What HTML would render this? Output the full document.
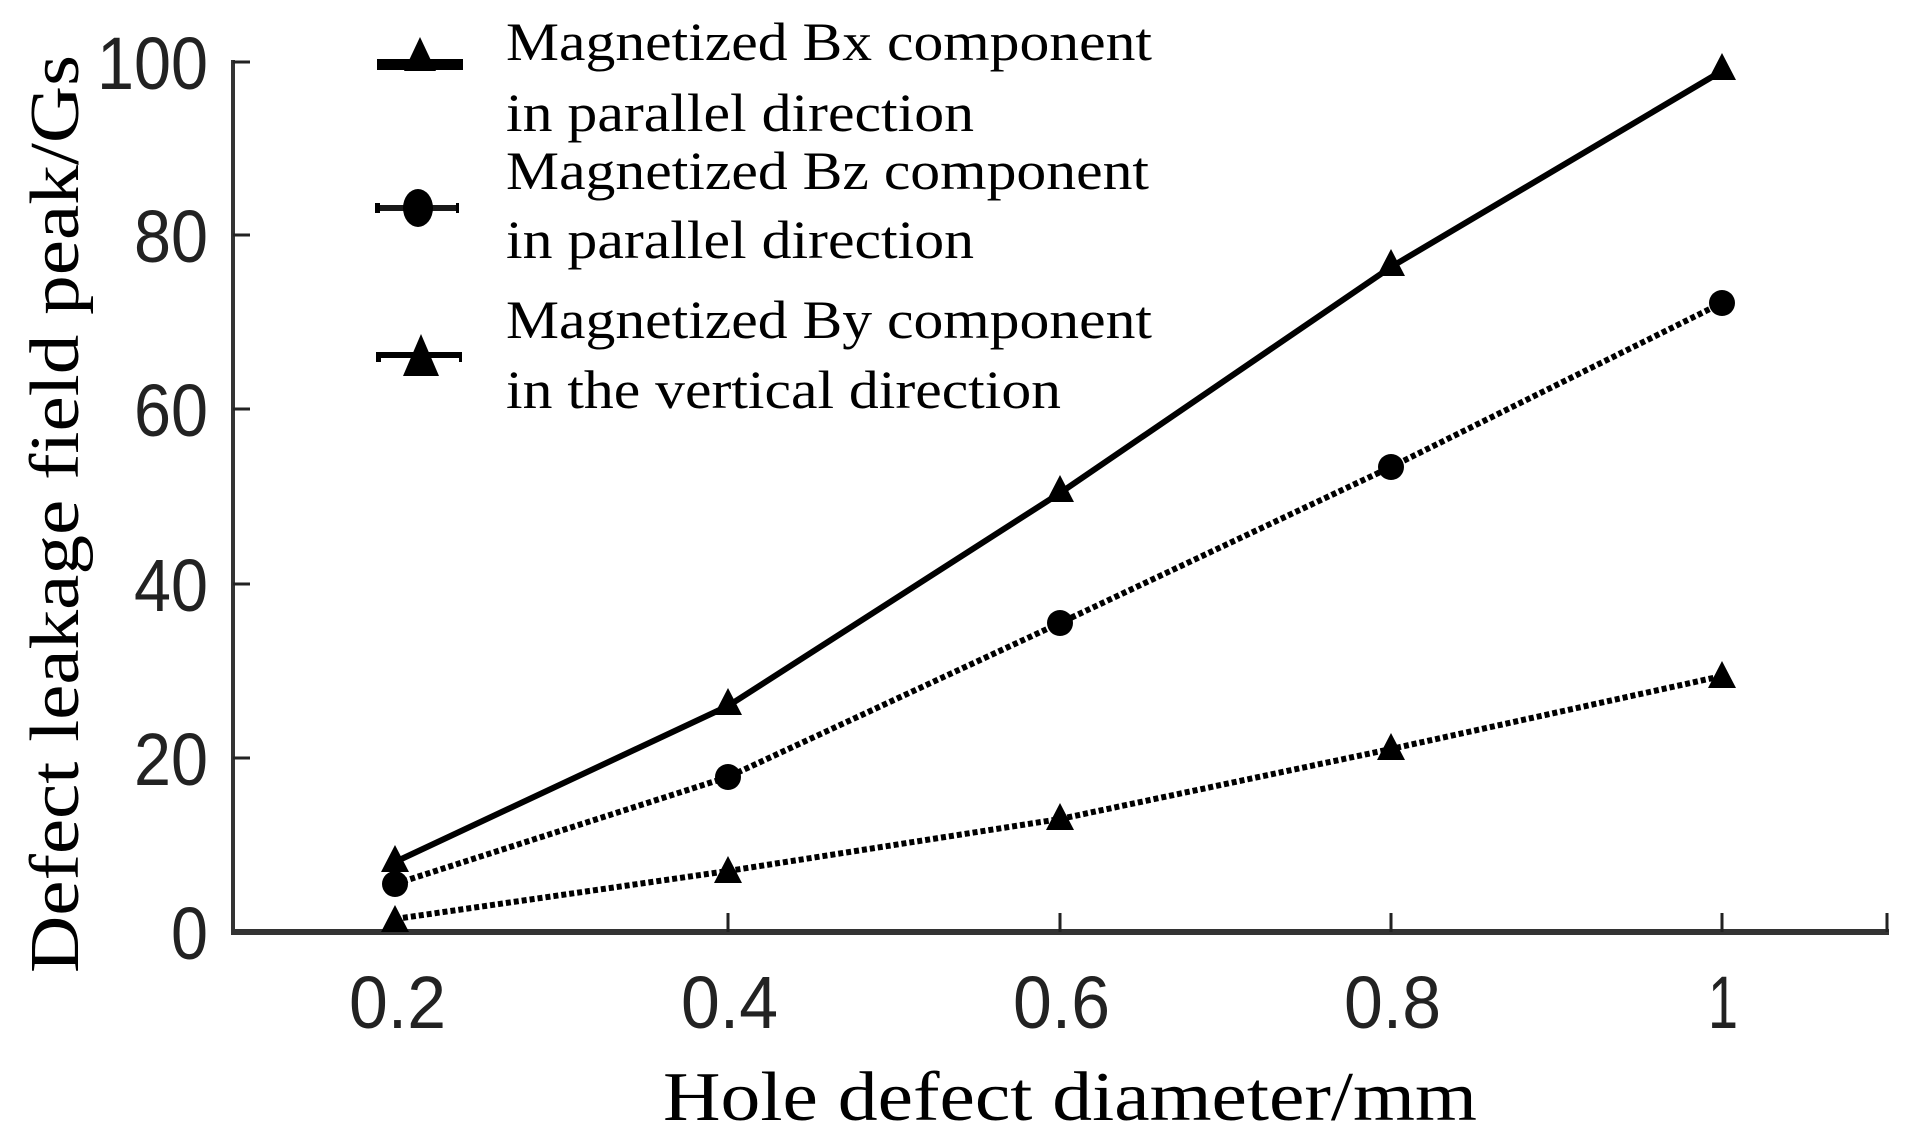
<!DOCTYPE html>
<html><head><meta charset="utf-8"><style>
html,body{margin:0;padding:0;background:#fff;}
svg{display:block;}
.t{font-family:"Liberation Sans",sans-serif;fill:#222;}
.s{font-family:"Liberation Serif",serif;fill:#000;}
</style></head><body>
<svg width="1908" height="1144" viewBox="0 0 1908 1144" xmlns="http://www.w3.org/2000/svg">
<rect width="1908" height="1144" fill="#fff"/>
<!-- axes -->
<line x1="233" y1="60" x2="233" y2="934" stroke="#333" stroke-width="4"/>
<line x1="231" y1="932" x2="1889" y2="932" stroke="#333" stroke-width="6"/>
<g stroke="#222" stroke-width="3">
<line x1="233" y1="62" x2="250" y2="62"/>
<line x1="233" y1="235" x2="250" y2="235"/>
<line x1="233" y1="409" x2="250" y2="409"/>
<line x1="233" y1="584" x2="250" y2="584"/>
<line x1="233" y1="758" x2="250" y2="758"/>
<line x1="395" y1="932" x2="395" y2="913"/>
<line x1="728" y1="932" x2="728" y2="913"/>
<line x1="1060" y1="932" x2="1060" y2="913"/>
<line x1="1391" y1="932" x2="1391" y2="913"/>
<line x1="1722" y1="932" x2="1722" y2="913"/>
<line x1="1887" y1="932" x2="1887" y2="913"/>
</g>
<!-- y tick labels -->
<g class="t" font-size="74" text-anchor="end">
<text x="208" y="89" textLength="111" lengthAdjust="spacingAndGlyphs">100</text>
<text x="208" y="262" textLength="74" lengthAdjust="spacingAndGlyphs">80</text>
<text x="208" y="436" textLength="74" lengthAdjust="spacingAndGlyphs">60</text>
<text x="208" y="611" textLength="74" lengthAdjust="spacingAndGlyphs">40</text>
<text x="208" y="785" textLength="74" lengthAdjust="spacingAndGlyphs">20</text>
<text x="208" y="959" textLength="37" lengthAdjust="spacingAndGlyphs">0</text>
</g>
<!-- x tick labels -->
<g class="t" font-size="74">
<text x="349" y="1028" textLength="97" lengthAdjust="spacingAndGlyphs">0.2</text>
<text x="681" y="1028" textLength="97" lengthAdjust="spacingAndGlyphs">0.4</text>
<text x="1013" y="1028" textLength="97" lengthAdjust="spacingAndGlyphs">0.6</text>
<text x="1344" y="1028" textLength="97" lengthAdjust="spacingAndGlyphs">0.8</text>
<text x="1708" y="1028" textLength="30" lengthAdjust="spacingAndGlyphs">1</text>
</g>
<text class="s" x="663" y="1120" font-size="70" textLength="814" lengthAdjust="spacingAndGlyphs">Hole defect diameter/mm</text>
<text class="s" font-size="70" transform="translate(78,973) rotate(-90)" textLength="918" lengthAdjust="spacingAndGlyphs">Defect leakage field peak/Gs</text>
<!-- series -->
<polyline points="395,919 728,871 1060,819 1391,749 1722,676" fill="none" stroke="#000" stroke-width="6" stroke-dasharray="5,3"/>
<polyline points="395,884 728,777 1060,623 1391,467 1722,303" fill="none" stroke="#000" stroke-width="6" stroke-dasharray="5,3"/>
<polyline points="395,862 728,706 1060,493 1391,267 1722,71" fill="none" stroke="#000" stroke-width="6"/>
<g fill="#000">
<circle cx="395" cy="884" r="13"/><circle cx="728" cy="777" r="13"/><circle cx="1060" cy="623" r="13"/><circle cx="1391" cy="467" r="13"/><circle cx="1722" cy="303" r="13"/>
<path d="M395,845 l-14,27 h28z M728,688 l-14,27 h28z M1060,475 l-14,27 h28z M1391,249 l-14,27 h28z M1722,53 l-14,27 h28z"/>
<path d="M395,905 l-14,27 h28z M728,856 l-14,27 h28z M1060,803 l-14,27 h28z M1391,733 l-14,27 h28z M1722,661 l-14,27 h28z"/>
</g>
<!-- legend -->
<g fill="#000">
<rect x="377" y="59" width="86" height="11"/>
<path d="M420,37 l-16,34 h32z"/>
<rect x="375" y="203" width="5" height="10"/><rect x="456" y="203" width="3" height="10"/>
<rect x="380" y="205" width="76" height="6" fill="#000" opacity="0.9"/>
<ellipse cx="418" cy="208" rx="15" ry="19"/>
<rect x="376" y="352" width="5" height="10"/><rect x="459" y="352" width="3" height="10"/>
<path d="M421,334 l-18,42 h36z"/>
<rect x="381" y="352" width="78" height="6"/>
</g>
<g class="s" font-size="54">
<text x="506" y="60" textLength="646" lengthAdjust="spacingAndGlyphs">Magnetized Bx component</text>
<text x="506" y="131" textLength="468" lengthAdjust="spacingAndGlyphs">in parallel direction</text>
<text x="506" y="189" textLength="643" lengthAdjust="spacingAndGlyphs">Magnetized Bz component</text>
<text x="506" y="258" textLength="468" lengthAdjust="spacingAndGlyphs">in parallel direction</text>
<text x="506" y="338" textLength="646" lengthAdjust="spacingAndGlyphs">Magnetized By component</text>
<text x="506" y="408" textLength="555" lengthAdjust="spacingAndGlyphs">in the vertical direction</text>
</g>
</svg>
</body></html>
